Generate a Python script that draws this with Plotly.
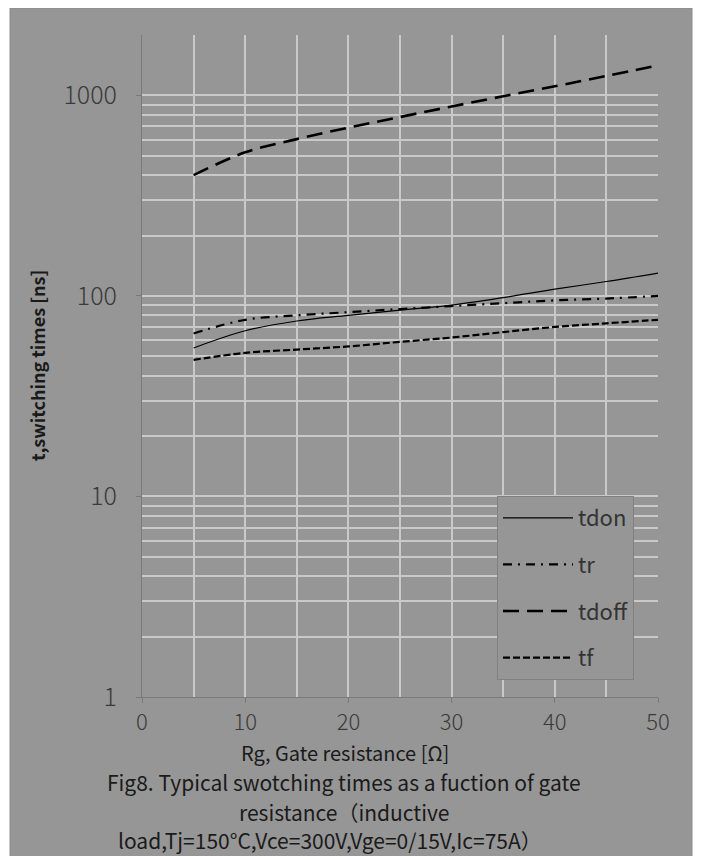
import plotly.graph_objects as go

rg = [5, 10, 15, 20, 25, 30, 35, 40, 45, 50]
tdon = [55, 67, 75, 80, 85, 90, 98, 108, 118, 130]
tr = [65, 76, 80, 83, 86, 89, 92, 95, 97, 100]
tdoff = [400, 520, 605, 690, 780, 880, 990, 1110, 1250, 1410]
tf = [48, 52, 54, 56, 59, 62, 66, 70, 73, 76]

series_names = ["tdon", "tr", "tdoff", "tf"]
series_vals = [tdon, tr, tdoff, tf]
styles = [
    dict(width=1.2, dash="solid"),
    dict(width=2.2, dash="9px,6px,2px,6px"),
    dict(width=2.6, dash="16px,8px"),
    dict(width=2.2, dash="7px,3px"),
]
y_major = [1, 10, 100, 1000]
y_minor = [m * d for d in [1, 10, 100, 1000] for m in range(2, 10) if m * d <= 2000] + [2000]

BG = "#969696"
GRID = "#c9c9c9"

fig = go.Figure()
for i, (n, v, s) in enumerate(zip(series_names, series_vals, styles)):
    fig.add_trace(go.Scatter(x=rg, y=v, name=n, mode="lines", legendgroup=n,
                             line=dict(color="black", shape="spline", **s)))

# figure is drawn at page offset (8, 8)
OFF = 8
L, R, T, B = 142 - OFF, 54, 35 - OFF, 167
W, H = 704, 856
pw, ph = W - L - R, H - T - B

def px(xs):
    return (xs - OFF - L) / pw

def py(ys):
    return (H - B - (ys - OFF)) / ph

fig.add_shape(type="rect", xref="paper", yref="paper", x0=px(10), x1=px(692), y0=py(870), y1=py(8),
              fillcolor=BG, line=dict(width=1, color="#8a8a8a"), layer="below")

fig.update_layout(
    width=W, height=H,
    margin=dict(l=L, r=R, t=T, b=B),
    paper_bgcolor="white", plot_bgcolor="rgba(0,0,0,0)",
    font=dict(family="Noto Sans CJK SC", color="#3a3a3a"),
    showlegend=True,
    legend=dict(x=px(497), y=py(496), xanchor="left", yanchor="top",
                bgcolor=BG, bordercolor="#808080", borderwidth=1,
                font=dict(size=22, color="#333333", family="Noto Sans CJK SC"),
                itemwidth=70, tracegroupgap=15, traceorder="grouped"),
    xaxis=dict(range=[0, 50], dtick=10, showgrid=True, gridcolor=GRID, gridwidth=1.5,
               minor=dict(dtick=5, showgrid=True, gridcolor=GRID, gridwidth=1.5),
               ticks="outside", ticklen=5, tickcolor="#7a7a7a",
               showline=True, linecolor="#7a7a7a", linewidth=1, zeroline=False,
               ticklabelstandoff=1,
               tickfont=dict(size=22, color="#3a3a3a", weight=300)),
    yaxis=dict(type="log", range=[0, 3.301], tickvals=y_major, ticktext=[str(v) for v in y_major],
               showgrid=True, gridcolor=GRID, gridwidth=1.5,
               minor=dict(tickvals=y_minor, showgrid=True, gridcolor=GRID, gridwidth=1.5, ticks=""),
               ticks="outside", ticklen=5, tickcolor="#7a7a7a",
               showline=True, linecolor="#7a7a7a", linewidth=1, zeroline=False,
               ticklabelstandoff=14,
               tickfont=dict(size=25, color="#3a3a3a", weight=300)),
)

ann = [
    dict(text="<b>t,switching times [ns]</b>", x=px(37), y=py(366), textangle=-90, size=18),
    dict(text="Rg, Gate resistance [Ω]", x=px(345), y=py(752), size=20),
    dict(text="Fig8. Typical swotching times as a fuction of gate", x=px(344), y=py(782), size=21),
    dict(text="resistance（inductive", x=px(344), y=py(812), size=21),
    dict(text="load,Tj=150°C,Vce=300V,Vge=0/15V,Ic=75A）", x=px(330), y=py(840), size=21),
]
for a in ann:
    fig.add_annotation(text=a["text"], x=a["x"], y=a["y"], xref="paper", yref="paper",
                       xanchor="center", yanchor="middle", showarrow=False,
                       textangle=a.get("textangle", 0),
                       font=dict(size=a["size"], color="#1a1a1a", family="Noto Sans CJK SC"))

fig.write_html("out.html")
